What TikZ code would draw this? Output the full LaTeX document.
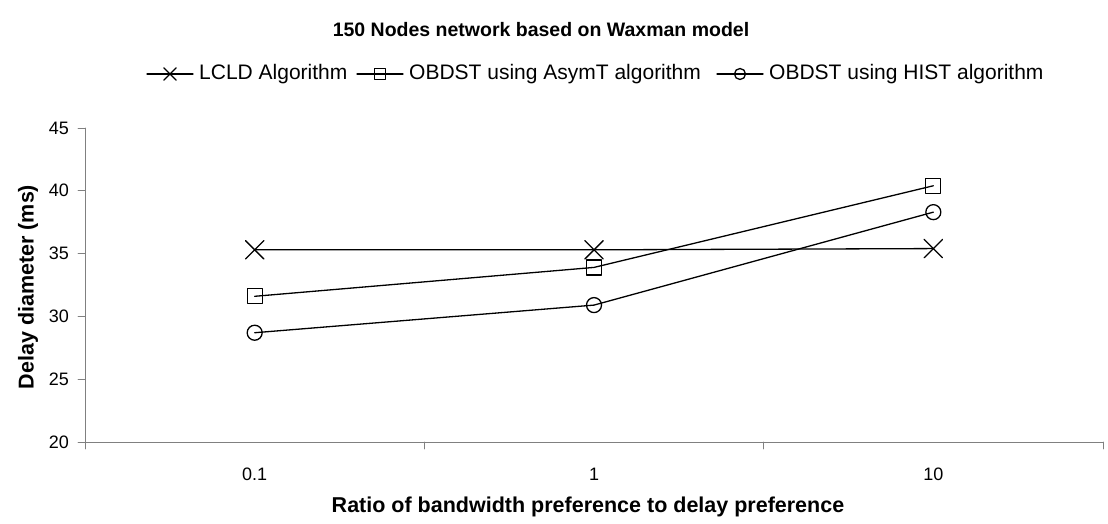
\documentclass[tikz,border=0pt]{standalone}
\usepackage{fontspec}
\setmainfont{Liberation Sans}
\usetikzlibrary{calc, positioning}
\usetikzlibrary{shapes.misc}

\tikzset{
  axisline/.style={draw=black!50, line width=0.8pt},
  seriesline/.style={draw=black, line width=1.3pt},
  crossmark/.style={draw, cross out, line width=1.3pt, minimum size=17pt, inner sep=0pt},
  squaremark/.style={draw, rectangle, line width=1.3pt, minimum size=15pt, inner sep=0pt},
  circlemark/.style={draw, circle, line width=1.3pt, minimum size=15pt, inner sep=0pt},
  keymark/.style={minimum size=11pt},
  ticklabel/.style={font=\fontsize{18}{21}\selectfont, inner sep=0pt},
  legendtext/.style={font=\fontsize{21}{24}\selectfont, inner sep=0pt, anchor=west},
  axislabel/.style={font=\bfseries\fontsize{21.5}{25}\selectfont, inner sep=0pt},
}

\begin{document}
\begin{tikzpicture}[x=1pt, y=1pt, line join=round, line cap=round]
\def\plotleft{85}
\def\plotright{1103}
\def\plotbottom{81}
\def\plottop{395}
\pgfmathsetmacro{\catwidth}{(\plotright-\plotleft)/3}
\pgfmathsetmacro{\unitheight}{(\plottop-\plotbottom)/25}

\useasboundingbox (0,0) rectangle (1108,523);

% Title
\node[font=\bfseries\fontsize{19.5}{23}\selectfont] (title) at (541,493) {150 Nodes network based on Waxman model};

% Axes, ticks and tick labels
\begin{scope}[shift={(\plotleft,{\plotbottom-20*\unitheight})}, x=\catwidth pt, y=\unitheight pt]
\draw[axisline] (0,20) -- (0,45);
\draw[axisline] (0,20) -- (3,20);
\foreach \yval in {20,25,...,45} {
  \draw[axisline] (0,\yval) -- ++(-7pt,0);
  \node[ticklabel, anchor=east] (ytick\yval) at ([xshift=-16pt]0,\yval) {\yval};
}
\foreach \xval in {0,1,2,3} {
  \draw[axisline] (\xval,20) -- ++(0,-7pt);
}
\foreach \xval/\xtext in {0/0.1, 1/1, 2/10} {
  \node[ticklabel] (xtick\xval) at ([yshift=-32pt]\xval+0.5,20) {\xtext};
}

% Data points
\node[crossmark] (lcld-1) at (0.5,35.3) {};
\node[crossmark] (lcld-2) at (1.5,35.3) {};
\node[crossmark] (lcld-3) at (2.5,35.4) {};
\node[squaremark] (asym-1) at (0.5,31.6) {};
\node[squaremark] (asym-2) at (1.5,33.9) {};
\node[squaremark] (asym-3) at (2.5,40.4) {};
\node[circlemark] (hist-1) at (0.5,28.7) {};
\node[circlemark] (hist-2) at (1.5,30.9) {};
\node[circlemark] (hist-3) at (2.5,38.3) {};

% Series lines
\draw[seriesline] (lcld-1.center) -- (lcld-2.center) -- (lcld-3.center);
\draw[seriesline] (asym-1.center) -- (asym-2.center) -- (asym-3.center);
\draw[seriesline] (hist-1.center) -- (hist-2.center) -- (hist-3.center);
\end{scope}

% Axis titles
\node[axislabel, rotate=90] (ylabel) at (28,236) {Delay diameter (ms)};
\node[axislabel] (xlabel) at (588,16) {Ratio of bandwidth preference to delay preference};

% Legend
\node[crossmark, keymark] (keylcld) at (170,449) {};
\draw[seriesline] ([xshift=-23pt]keylcld.center) -- ([xshift=23pt]keylcld.center);
\node[legendtext] (leglcld) at (199,449) {LCLD Algorithm};
\node[squaremark, keymark] (keyasym) at (380,449) {};
\draw[seriesline] ([xshift=-23pt]keyasym.center) -- ([xshift=23pt]keyasym.center);
\node[legendtext] (legasym) at (409,449) {OBDST using AsymT algorithm};
\node[circlemark, keymark] (keyhist) at (740,449) {};
\draw[seriesline] ([xshift=-23pt]keyhist.center) -- ([xshift=23pt]keyhist.center);
\node[legendtext] (leghist) at (769,449) {OBDST using HIST algorithm};
\end{tikzpicture}
\end{document}
